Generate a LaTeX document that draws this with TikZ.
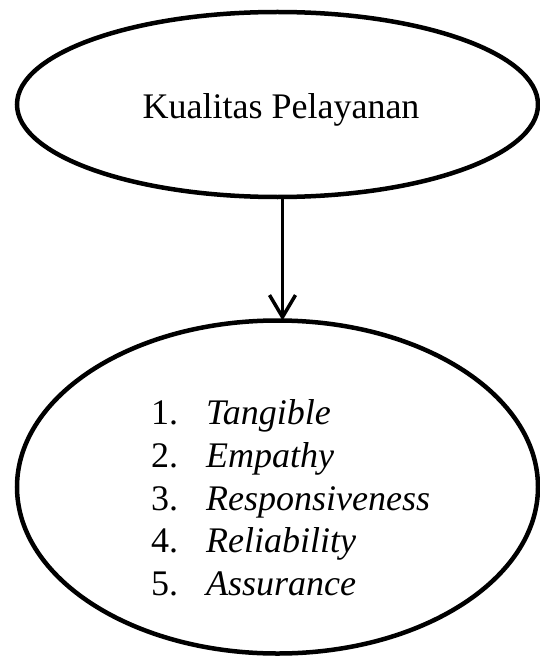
\documentclass[tikz,border=0pt]{standalone}
\usepackage{fontspec}
\setmainfont{Liberation Serif}
\usetikzlibrary{shapes.geometric,arrows.meta}
\begin{document}
\begin{tikzpicture}[x=1pt,y=1pt,
  oval/.style={draw=black, ellipse, line width=4.5pt, inner sep=0pt, outer sep=0pt},
  lbl/.style={anchor=base west, inner sep=0pt, font=\fontsize{36}{43}\selectfont},
  toplbl/.style={anchor=base, inner sep=0pt, font=\fontsize{36}{43}\selectfont},
  arr/.style={line width=3.5pt, -{Straight Barb[length=22pt,width=26pt,line width=3.5pt]}}]
\useasboundingbox (0,0) rectangle (539,-658);
\node[oval, minimum width=521pt, minimum height=185pt] (top) at (277.5,-104.5) {};
\node[toplbl] (toptext) at (281,-118.5) {Kualitas Pelayanan};
\node[oval, minimum width=521pt, minimum height=333pt] (bot) at (277.5,-487) {};
\node[lbl] (i1) at (151,-424) {\makebox[55pt][l]{1.}\textit{Tangible}};
\node[lbl] (i2) at (151,-467) {\makebox[55pt][l]{2.}\textit{Empathy}};
\node[lbl] (i3) at (151,-510) {\makebox[55pt][l]{3.}\textit{Responsiveness}};
\node[lbl] (i4) at (151,-552.5) {\makebox[55pt][l]{4.}\textit{Reliability}};
\node[lbl] (i5) at (151,-595.5) {\makebox[55pt][l]{5.}\textit{Assurance}};
\draw[arr] ([xshift=5pt]top.south) -- ([xshift=5pt]bot.north);
\end{tikzpicture}
\end{document}
